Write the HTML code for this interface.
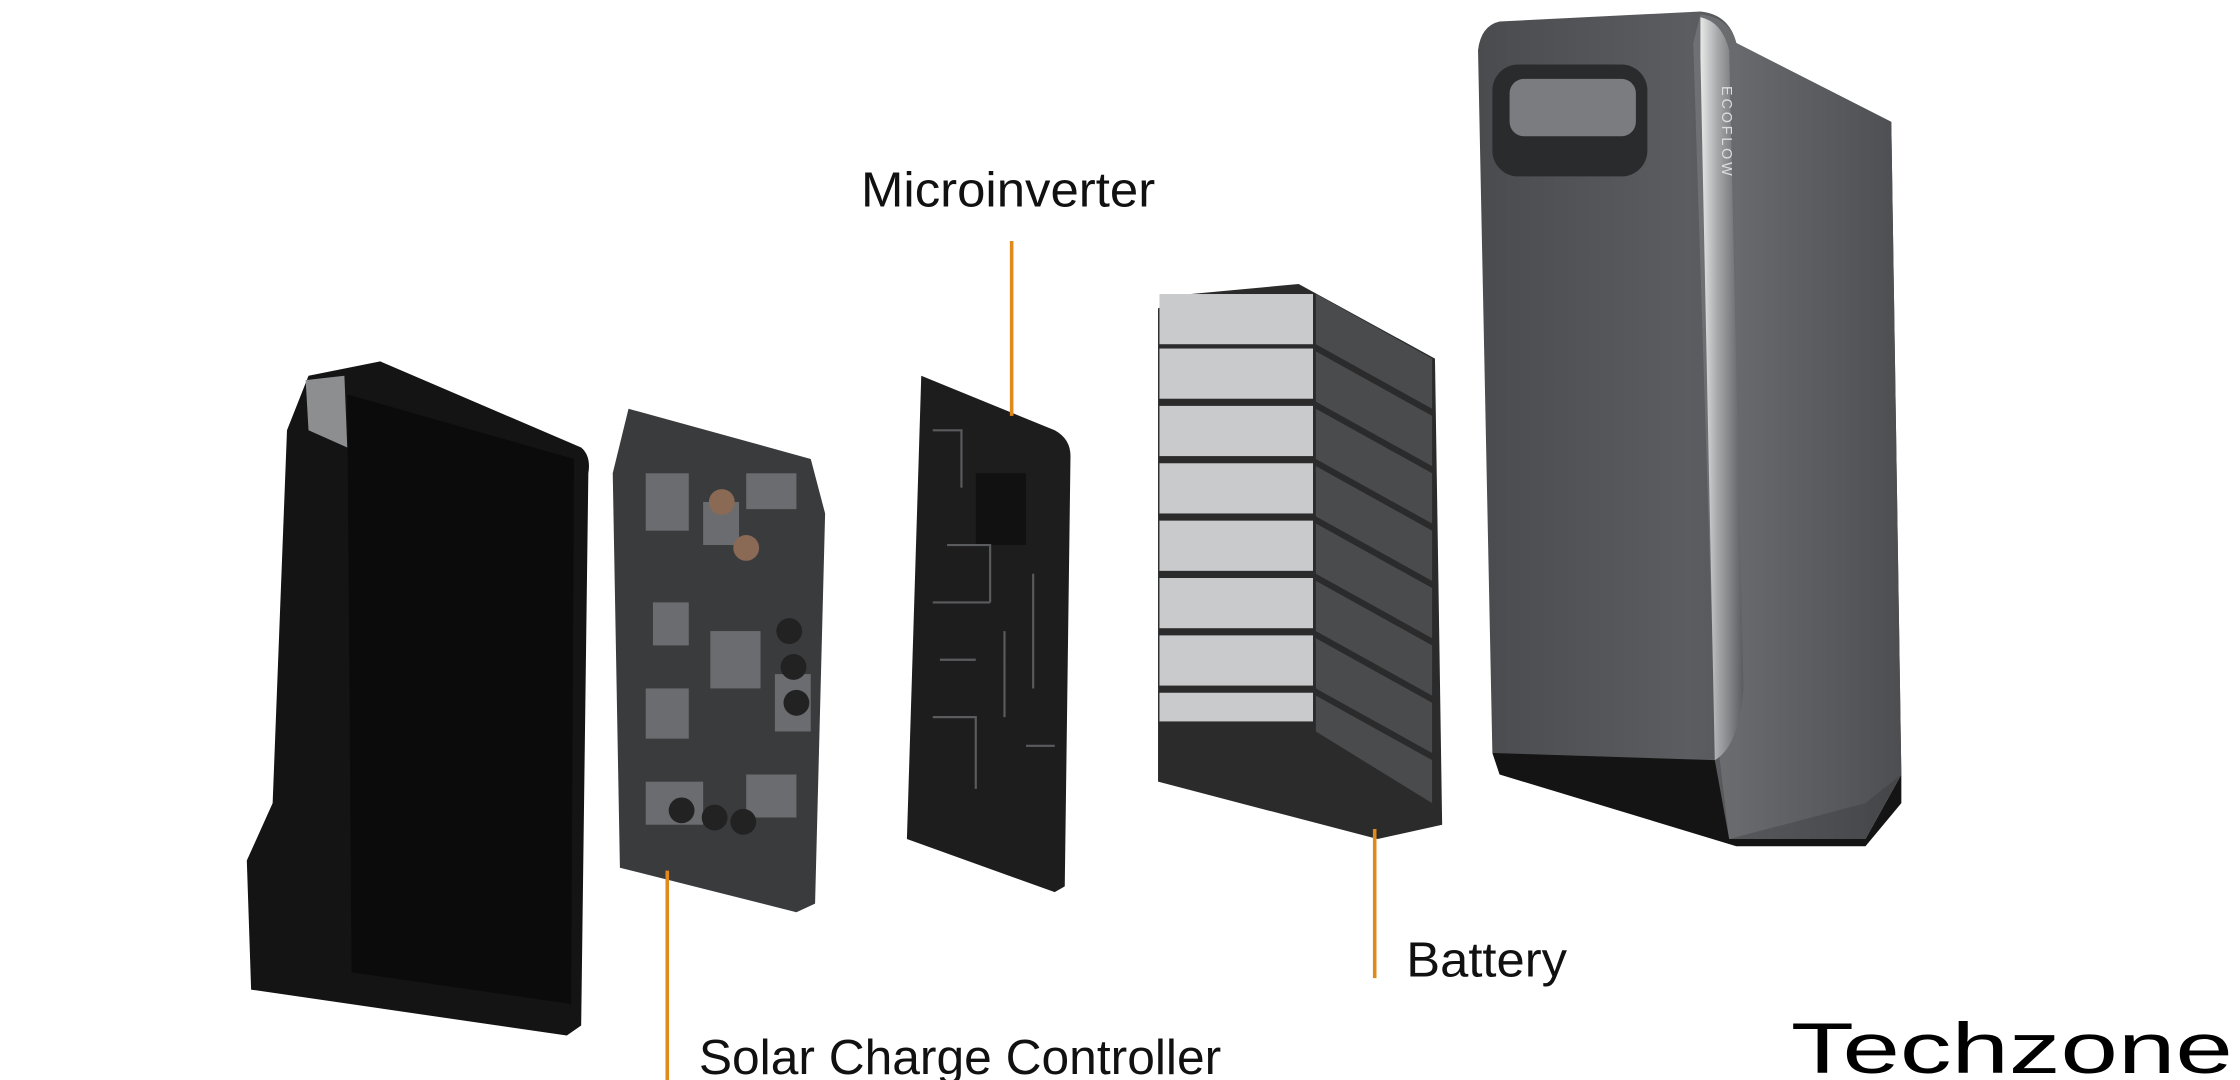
<!DOCTYPE html>
<html><head><meta charset="utf-8"><style>
html,body{margin:0;padding:0;background:#fff;width:2240px;height:1080px;overflow:hidden}
svg{display:block}
text{font-family:"Liberation Sans",sans-serif}
</style></head><body>
<svg width="2240" height="1080" viewBox="0 0 1561 753" preserveAspectRatio="none" xmlns="http://www.w3.org/2000/svg">
<defs>
<linearGradient id="uf" x1="0" x2="1"><stop offset="0" stop-color="#4a4b4e"/><stop offset="0.5" stop-color="#5c5d61"/><stop offset="1" stop-color="#444548"/></linearGradient>
<linearGradient id="us" x1="0" x2="1"><stop offset="0" stop-color="#e8e8e8"/><stop offset="0.4" stop-color="#a7a8ab"/><stop offset="1" stop-color="#5a5b5e"/></linearGradient>
<linearGradient id="uside" x1="0" x2="1"><stop offset="0" stop-color="#707174"/><stop offset="1" stop-color="#4d4e51"/></linearGradient>
</defs>
<!-- left case -->
<path d="M215,262 L265,252 L405,312 Q412,318 410,330 L405,715 L395,722 L175,690 L172,600 L190,560 L200,300 Z" fill="#141414"/>
<path d="M213,265 L240,262 L242,312 L215,300 Z" fill="#8d8e90"/>
<path d="M242,275 L400,320 L398,700 L245,678 Z" fill="#0b0b0b"/>
<!-- PCB1 -->
<path d="M438,285 L565,320 L575,358 L568,630 L555,636 L432,605 L427,330 Z" fill="#3a3b3d"/>
<g fill="#6b6c6f">
<rect x="450" y="330" width="30" height="40"/><rect x="490" y="350" width="25" height="30"/><rect x="520" y="330" width="35" height="25"/>
<rect x="455" y="420" width="25" height="30"/><rect x="495" y="440" width="35" height="40"/><rect x="450" y="480" width="30" height="35"/>
<rect x="540" y="470" width="25" height="40"/><rect x="520" y="540" width="35" height="30"/><rect x="450" y="545" width="40" height="30"/>
</g>
<g fill="#222"><circle cx="550" cy="440" r="9"/><circle cx="553" cy="465" r="9"/><circle cx="555" cy="490" r="9"/><circle cx="475" cy="565" r="9"/><circle cx="498" cy="570" r="9"/><circle cx="518" cy="573" r="9"/></g>
<circle cx="503" cy="350" r="9" fill="#8a6a55"/><circle cx="520" cy="382" r="9" fill="#8a6a55"/>
<!-- PCB2 -->
<path d="M642,262 L735,300 Q746,306 746,318 L742,618 L735,622 L632,585 Z" fill="#1d1d1e"/>
<rect x="680" y="330" width="35" height="50" fill="#111"/>
<g stroke="#5a5b5d" stroke-width="1.5" fill="none">
<path d="M650,300 h20 v40 M660,380 h30 v40 M650,420 h40 M700,440 v60 M650,500 h30 v50 M715,520 h20 M720,400 v80 M655,460 h25"/>
</g>
<!-- battery -->
<g>
<path d="M830,205 L905,198 L1000,250 L1005,575 L960,585 L807,545 L807,215 Z" fill="#2b2b2c"/>
<g fill="#c9cacc"><rect x="808" y="205" width="107" height="35"/><rect x="808" y="243" width="107" height="35"/><rect x="808" y="283" width="107" height="35"/><rect x="808" y="323" width="107" height="35"/><rect x="808" y="363" width="107" height="35"/><rect x="808" y="403" width="107" height="35"/><rect x="808" y="443" width="107" height="35"/><rect x="808" y="483" width="107" height="20"/></g>
<g fill="#4a4b4d"><path d="M917,205 L998,250 L998,285 L917,240Z"/><path d="M917,245 L998,290 L998,325 L917,280Z"/><path d="M917,285 L998,330 L998,365 L917,320Z"/><path d="M917,325 L998,370 L998,405 L917,360Z"/><path d="M917,365 L998,410 L998,445 L917,400Z"/><path d="M917,405 L998,450 L998,485 L917,440Z"/><path d="M917,445 L998,490 L998,525 L917,480Z"/><path d="M917,485 L998,530 L998,560 L917,510Z"/></g>
</g>
<!-- ecoflow unit -->
<path d="M1045,15 L1185,8 Q1205,10 1210,30 L1318,85 L1325,540 L1300,585 L1195,585 L1040,525 L1030,35 Q1032,18 1045,15 Z" fill="url(#uf)"/>
<path d="M1185,10 Q1205,12 1210,30 L1318,85 L1325,540 L1300,560 L1205,585 L1195,500 L1180,30 Z" fill="url(#uside)"/>
<path d="M1185,12 Q1200,15 1205,35 L1215,480 Q1212,520 1195,530 L1185,40 Z" fill="url(#us)"/>
<path d="M1040,525 L1195,530 L1205,585 L1300,585 L1325,540 L1325,560 L1300,590 L1210,590 L1045,540 Z" fill="#141414"/>
<rect x="1040" y="45" width="108" height="78" rx="18" fill="#2a2b2d"/>
<rect x="1052" y="55" width="88" height="40" rx="10" fill="#7b7c7f"/>
<text x="0" y="0" font-size="10" fill="#ddd" transform="translate(1200,60) rotate(90)" letter-spacing="2">ECOFLOW</text>
<!-- connectors -->
<g stroke="#e08a1e" stroke-width="2.5"><line x1="705" y1="168" x2="705" y2="290"/><line x1="465" y1="607" x2="465" y2="756"/><line x1="958" y1="578" x2="958" y2="682"/></g>
<!-- labels -->
<text x="600" y="144" font-size="34" fill="#111" textLength="205" lengthAdjust="spacingAndGlyphs">Microinverter</text>
<text x="980" y="681" font-size="34" fill="#111" textLength="112" lengthAdjust="spacingAndGlyphs">Battery</text>
<text x="487" y="749" font-size="34" fill="#111" textLength="364" lengthAdjust="spacingAndGlyphs">Solar Charge Controller</text>
<text x="1248" y="748" font-size="50" fill="#000" textLength="308" lengthAdjust="spacingAndGlyphs">Techzone</text>
</svg>
</body></html>
